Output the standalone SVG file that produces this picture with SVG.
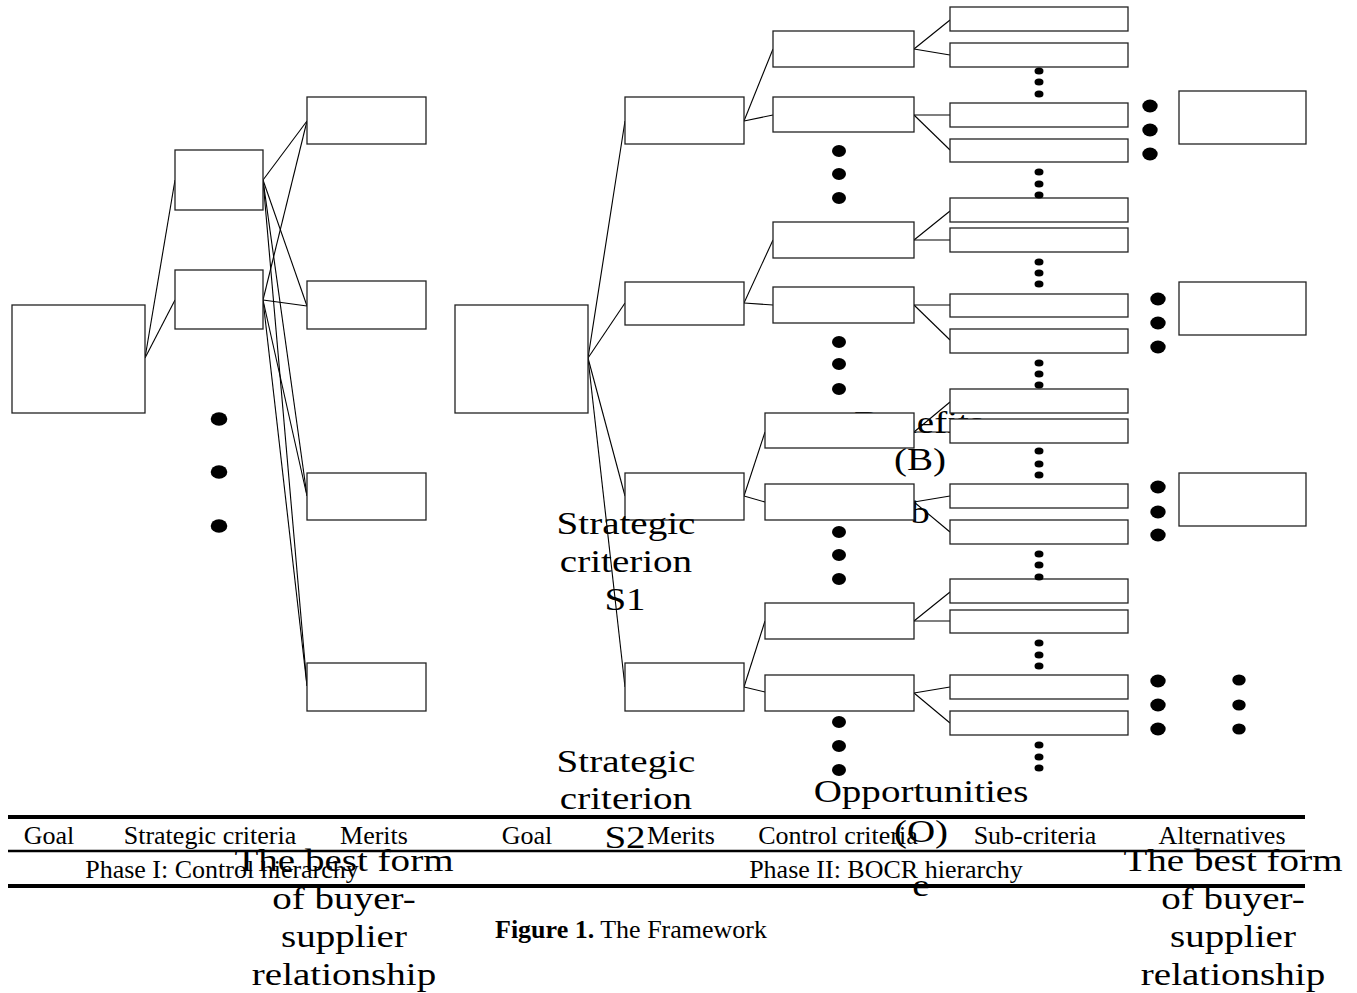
<svg xmlns="http://www.w3.org/2000/svg" width="1357" height="993" viewBox="0 0 1357 993">
<style>
.box{fill:#fff;stroke:#222;stroke-width:1.3}
.ln{stroke:#000;stroke-width:1.1;fill:none}
.big{font-family:"Liberation Serif","Times New Roman",serif;font-size:31px;fill:#000;text-anchor:middle}
.hdr{font-family:"Liberation Serif","Times New Roman",serif;font-size:26px;fill:#000;text-anchor:middle}
.cap{font-family:"Liberation Serif","Times New Roman",serif;font-size:26px;fill:#000;text-anchor:start}
.dot{fill:#000}
.rule{stroke:#000;fill:none}
</style>
<rect width="1357" height="993" fill="#fff"/>

<!-- label partly hidden behind boxes -->
<g id="label-benefits">
<text class="big" transform="translate(919,0) scale(1.26,1)" x="0" y="433">Benefits</text>
<text class="big" transform="translate(920,0) scale(1.26,1)" x="0" y="470">(B)</text>
<text class="big" transform="translate(920,0) scale(1.26,1)" x="0" y="523">b</text>
</g>

<g id="connectors">
<line class="ln" x1="145" y1="358" x2="175" y2="180"/>
<line class="ln" x1="145" y1="358" x2="175" y2="300"/>
<line class="ln" x1="263" y1="180" x2="307" y2="121"/>
<line class="ln" x1="263" y1="180" x2="307" y2="306"/>
<line class="ln" x1="263" y1="180" x2="307" y2="496"/>
<line class="ln" x1="263" y1="180" x2="307" y2="686"/>
<line class="ln" x1="263" y1="300" x2="307" y2="121"/>
<line class="ln" x1="263" y1="300" x2="307" y2="306"/>
<line class="ln" x1="263" y1="300" x2="307" y2="496"/>
<line class="ln" x1="263" y1="300" x2="307" y2="686"/>

<line class="ln" x1="588" y1="358" x2="625" y2="121"/>
<line class="ln" x1="588" y1="358" x2="625" y2="303"/>
<line class="ln" x1="588" y1="358" x2="625" y2="496"/>
<line class="ln" x1="588" y1="358" x2="625" y2="687"/>

<line class="ln" x1="744" y1="121" x2="773" y2="49"/>
<line class="ln" x1="744" y1="121" x2="773" y2="115"/>
<line class="ln" x1="744" y1="303" x2="773" y2="240"/>
<line class="ln" x1="744" y1="303" x2="773" y2="305"/>
<line class="ln" x1="744" y1="496" x2="765" y2="432"/>
<line class="ln" x1="744" y1="496" x2="765" y2="502"/>
<line class="ln" x1="744" y1="687" x2="765" y2="621"/>
<line class="ln" x1="744" y1="687" x2="765" y2="692"/>

<line class="ln" x1="914" y1="49" x2="950" y2="20"/>
<line class="ln" x1="914" y1="49" x2="950" y2="55"/>
<line class="ln" x1="914" y1="115" x2="950" y2="115"/>
<line class="ln" x1="914" y1="115" x2="950" y2="150"/>
<line class="ln" x1="914" y1="240" x2="950" y2="211"/>
<line class="ln" x1="914" y1="240" x2="950" y2="240"/>
<line class="ln" x1="914" y1="305" x2="950" y2="305"/>
<line class="ln" x1="914" y1="305" x2="950" y2="340"/>
<line class="ln" x1="914" y1="432" x2="950" y2="402"/>
<line class="ln" x1="914" y1="432" x2="950" y2="432"/>
<line class="ln" x1="914" y1="502" x2="950" y2="496"/>
<line class="ln" x1="914" y1="502" x2="950" y2="532"/>
<line class="ln" x1="914" y1="621" x2="950" y2="592"/>
<line class="ln" x1="914" y1="621" x2="950" y2="621"/>
<line class="ln" x1="914" y1="693" x2="950" y2="687"/>
<line class="ln" x1="914" y1="693" x2="950" y2="723"/>
</g>

<!-- Phase I nodes -->
<g id="p1-goal"><rect class="box" x="12" y="305" width="133" height="108"/></g>
<g id="p1-strategic-1"><rect class="box" x="175" y="150" width="88" height="60"/></g>
<g id="p1-strategic-2"><rect class="box" x="175" y="270" width="88" height="59"/></g>
<g id="p1-merit-1"><rect class="box" x="307" y="97" width="119" height="47"/></g>
<g id="p1-merit-2"><rect class="box" x="307" y="281" width="119" height="48"/></g>
<g id="p1-merit-3"><rect class="box" x="307" y="473" width="119" height="47"/></g>
<g id="p1-merit-4"><rect class="box" x="307" y="663" width="119" height="48"/></g>

<!-- Phase II nodes -->
<g id="p2-goal"><rect class="box" x="455" y="305" width="133" height="108"/></g>
<g id="p2-merit-1"><rect class="box" x="625" y="97" width="119" height="47"/></g>
<g id="p2-merit-2"><rect class="box" x="625" y="282" width="119" height="43"/></g>
<g id="p2-merit-3"><rect class="box" x="625" y="473" width="119" height="47"/></g>
<g id="p2-merit-4"><rect class="box" x="625" y="663" width="119" height="48"/></g>

<g id="cc-1"><rect class="box" x="773" y="31" width="141" height="36"/></g>
<g id="cc-2"><rect class="box" x="773" y="97" width="141" height="35"/></g>
<g id="cc-3"><rect class="box" x="773" y="222" width="141" height="36"/></g>
<g id="cc-4"><rect class="box" x="773" y="287" width="141" height="36"/></g>
<g id="cc-5"><rect class="box" x="765" y="413" width="149" height="35"/></g>
<g id="cc-6"><rect class="box" x="765" y="484" width="149" height="36"/></g>
<g id="cc-7"><rect class="box" x="765" y="603" width="149" height="36"/></g>
<g id="cc-8"><rect class="box" x="765" y="675" width="149" height="36"/></g>

<g id="sub-1"><rect class="box" x="950" y="7" width="178" height="24"/></g>
<g id="sub-2"><rect class="box" x="950" y="43" width="178" height="24"/></g>
<g id="sub-3"><rect class="box" x="950" y="103" width="178" height="24"/></g>
<g id="sub-4"><rect class="box" x="950" y="139" width="178" height="23"/></g>
<g id="sub-5"><rect class="box" x="950" y="198" width="178" height="24"/></g>
<g id="sub-6"><rect class="box" x="950" y="228" width="178" height="24"/></g>
<g id="sub-7"><rect class="box" x="950" y="294" width="178" height="23"/></g>
<g id="sub-8"><rect class="box" x="950" y="329" width="178" height="24"/></g>
<g id="sub-9"><rect class="box" x="950" y="389" width="178" height="24"/></g>
<g id="sub-10"><rect class="box" x="950" y="419" width="178" height="24"/></g>
<g id="sub-11"><rect class="box" x="950" y="484" width="178" height="24"/></g>
<g id="sub-12"><rect class="box" x="950" y="520" width="178" height="24"/></g>
<g id="sub-13"><rect class="box" x="950" y="579" width="178" height="24"/></g>
<g id="sub-14"><rect class="box" x="950" y="610" width="178" height="23"/></g>
<g id="sub-15"><rect class="box" x="950" y="675" width="178" height="24"/></g>
<g id="sub-16"><rect class="box" x="950" y="711" width="178" height="24"/></g>

<g id="alt-1"><rect class="box" x="1179" y="91" width="127" height="53"/></g>
<g id="alt-2"><rect class="box" x="1179" y="282" width="127" height="53"/></g>
<g id="alt-3"><rect class="box" x="1179" y="473" width="127" height="53"/></g>

<!-- ellipsis dots -->
<g id="dots">
<ellipse class="dot" cx="219" cy="419" rx="8.3" ry="6.7"/>
<ellipse class="dot" cx="219" cy="472" rx="8.3" ry="6.7"/>
<ellipse class="dot" cx="219" cy="526" rx="8.3" ry="6.7"/>

<ellipse class="dot" cx="839" cy="151" rx="7" ry="6"/>
<ellipse class="dot" cx="839" cy="174" rx="7" ry="6"/>
<ellipse class="dot" cx="839" cy="198" rx="7" ry="6"/>
<ellipse class="dot" cx="839" cy="342" rx="7" ry="6"/>
<ellipse class="dot" cx="839" cy="364" rx="7" ry="6"/>
<ellipse class="dot" cx="839" cy="389" rx="7" ry="6"/>
<ellipse class="dot" cx="839" cy="532" rx="7" ry="6"/>
<ellipse class="dot" cx="839" cy="555" rx="7" ry="6"/>
<ellipse class="dot" cx="839" cy="579" rx="7" ry="6"/>
<ellipse class="dot" cx="839" cy="722" rx="7" ry="6"/>
<ellipse class="dot" cx="839" cy="746" rx="7" ry="6"/>
<ellipse class="dot" cx="839" cy="770" rx="7" ry="6"/>

<ellipse class="dot" cx="1039" cy="71" rx="4.5" ry="3.5"/>
<ellipse class="dot" cx="1039" cy="82" rx="4.5" ry="3.5"/>
<ellipse class="dot" cx="1039" cy="94" rx="4.5" ry="3.5"/>
<ellipse class="dot" cx="1039" cy="172" rx="4.5" ry="3.5"/>
<ellipse class="dot" cx="1039" cy="184" rx="4.5" ry="3.5"/>
<ellipse class="dot" cx="1039" cy="195" rx="4.5" ry="3.5"/>
<ellipse class="dot" cx="1039" cy="262" rx="4.5" ry="3.5"/>
<ellipse class="dot" cx="1039" cy="273" rx="4.5" ry="3.5"/>
<ellipse class="dot" cx="1039" cy="284" rx="4.5" ry="3.5"/>
<ellipse class="dot" cx="1039" cy="363" rx="4.5" ry="3.5"/>
<ellipse class="dot" cx="1039" cy="374" rx="4.5" ry="3.5"/>
<ellipse class="dot" cx="1039" cy="385" rx="4.5" ry="3.5"/>
<ellipse class="dot" cx="1039" cy="451" rx="4.5" ry="3.5"/>
<ellipse class="dot" cx="1039" cy="464" rx="4.5" ry="3.5"/>
<ellipse class="dot" cx="1039" cy="475" rx="4.5" ry="3.5"/>
<ellipse class="dot" cx="1039" cy="554" rx="4.5" ry="3.5"/>
<ellipse class="dot" cx="1039" cy="565" rx="4.5" ry="3.5"/>
<ellipse class="dot" cx="1039" cy="577" rx="4.5" ry="3.5"/>
<ellipse class="dot" cx="1039" cy="643" rx="4.5" ry="3.5"/>
<ellipse class="dot" cx="1039" cy="655" rx="4.5" ry="3.5"/>
<ellipse class="dot" cx="1039" cy="666" rx="4.5" ry="3.5"/>
<ellipse class="dot" cx="1039" cy="745" rx="4.5" ry="3.5"/>
<ellipse class="dot" cx="1039" cy="757" rx="4.5" ry="3.5"/>
<ellipse class="dot" cx="1039" cy="768" rx="4.5" ry="3.5"/>

<ellipse class="dot" cx="1150" cy="106" rx="7.7" ry="6.5"/>
<ellipse class="dot" cx="1150" cy="130" rx="7.7" ry="6.5"/>
<ellipse class="dot" cx="1150" cy="154" rx="7.7" ry="6.5"/>
<ellipse class="dot" cx="1158" cy="299" rx="7.7" ry="6.5"/>
<ellipse class="dot" cx="1158" cy="323" rx="7.7" ry="6.5"/>
<ellipse class="dot" cx="1158" cy="347" rx="7.7" ry="6.5"/>
<ellipse class="dot" cx="1158" cy="487" rx="7.7" ry="6.5"/>
<ellipse class="dot" cx="1158" cy="512" rx="7.7" ry="6.5"/>
<ellipse class="dot" cx="1158" cy="535" rx="7.7" ry="6.5"/>
<ellipse class="dot" cx="1158" cy="681" rx="7.7" ry="6.5"/>
<ellipse class="dot" cx="1158" cy="705" rx="7.7" ry="6.5"/>
<ellipse class="dot" cx="1158" cy="729" rx="7.7" ry="6.5"/>

<ellipse class="dot" cx="1239" cy="680" rx="6.7" ry="5.5"/>
<ellipse class="dot" cx="1239" cy="705" rx="6.7" ry="5.5"/>
<ellipse class="dot" cx="1239" cy="729" rx="6.7" ry="5.5"/>
</g>

<!-- floating labels -->
<g id="label-s1">
<text class="big" transform="translate(626,0) scale(1.26,1)" x="0" y="534">Strategic</text>
<text class="big" transform="translate(626,0) scale(1.26,1)" x="0" y="572">criterion</text>
<text class="big" transform="translate(625,0) scale(1.26,1)" x="0" y="610">S1</text>
</g>
<g id="label-s2">
<text class="big" transform="translate(626,0) scale(1.26,1)" x="0" y="772">Strategic</text>
<text class="big" transform="translate(626,0) scale(1.26,1)" x="0" y="809">criterion</text>
<text class="big" transform="translate(625,0) scale(1.26,1)" x="0" y="848">S2</text>
</g>
<g id="label-opportunities">
<text class="big" transform="translate(921,0) scale(1.26,1)" x="0" y="802">Opportunities</text>
<text class="big" transform="translate(921,0) scale(1.26,1)" x="0" y="842">(O)</text>
<text class="big" transform="translate(921,0) scale(1.26,1)" x="0" y="896">e</text>
</g>
<g id="label-best-left">
<text class="big" transform="translate(344,0) scale(1.26,1)" x="0" y="871">The best form</text>
<text class="big" transform="translate(344,0) scale(1.26,1)" x="0" y="909">of buyer-</text>
<text class="big" transform="translate(344,0) scale(1.26,1)" x="0" y="947">supplier</text>
<text class="big" transform="translate(344,0) scale(1.26,1)" x="0" y="985">relationship</text>
</g>
<g id="label-best-right">
<text class="big" transform="translate(1233,0) scale(1.26,1)" x="0" y="871">The best form</text>
<text class="big" transform="translate(1233,0) scale(1.26,1)" x="0" y="909">of buyer-</text>
<text class="big" transform="translate(1233,0) scale(1.26,1)" x="0" y="947">supplier</text>
<text class="big" transform="translate(1233,0) scale(1.26,1)" x="0" y="985">relationship</text>
</g>

<!-- bottom table -->
<g id="legend">
<line class="rule" x1="8" y1="817" x2="1305" y2="817" stroke-width="4"/>
<line class="rule" x1="8" y1="851" x2="1305" y2="851" stroke-width="2.5"/>
<line class="rule" x1="8" y1="886" x2="1305" y2="886" stroke-width="4"/>
<text class="hdr" x="49" y="844">Goal</text>
<text class="hdr" x="210" y="844">Strategic criteria</text>
<text class="hdr" x="374" y="844">Merits</text>
<text class="hdr" x="527" y="844">Goal</text>
<text class="hdr" x="681" y="844">Merits</text>
<text class="hdr" x="838" y="844">Control criteria</text>
<text class="hdr" x="1035" y="844">Sub-criteria</text>
<text class="hdr" x="1222" y="844">Alternatives</text>
<text class="hdr" x="222" y="878">Phase I: Control hierarchy</text>
<text class="hdr" x="886" y="878">Phase II: BOCR hierarchy</text>
<text class="cap" x="495" y="938"><tspan font-weight="bold">Figure 1.</tspan> The Framework</text>
</g>
</svg>
